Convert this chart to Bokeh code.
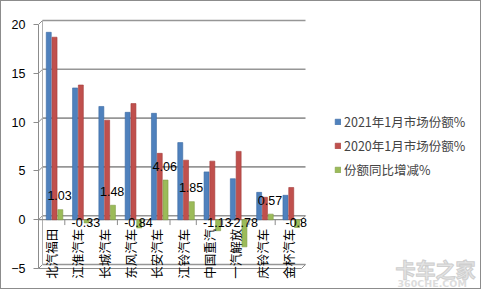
from bokeh.plotting import figure
from bokeh.models import (ColumnDataSource, Legend, LegendItem, Label, FixedTicker, Range1d)
from bokeh.core.properties import value
from bokeh.embed import file_html
from bokeh.resources import INLINE
import math

categories = ["北汽福田", "江淮汽车", "长城汽车", "东风汽车", "长安汽车",
              "江铃汽车", "中国重汽", "一汽解放", "庆铃汽车", "金杯汽车"]
share_2021 = [19.2, 13.5, 11.6, 11.0, 10.9, 7.9, 4.9, 4.2, 2.8, 2.5]
share_2020 = [18.7, 13.8, 10.2, 11.9, 6.8, 6.1, 6.0, 7.0, 2.3, 3.3]
change = [1.03, -0.33, 1.48, -0.84, 4.06, 1.85, -1.13, -2.78, 0.57, -0.8]
series_names = ["2021年1月市场份额%", "2020年1月市场份额%", "份额同比增减%"]
y_ticks = [-5, 0, 5, 10, 15, 20]

BLUE, RED, GREEN = "#4F81BD", "#C0504D", "#9BBB59"
GRID = "#8c8c8c"
CJK = "Noto Sans CJK SC"

n = len(categories)
idx = list(range(n))
PX = 26.3          # pixels per category
PY = 9.76          # pixels per y unit
DX, DY = 4 / PX, 4 / PY   # 3-D depth offset

src = ColumnDataSource(dict(i=idx, cat=categories, zero=[0] * n))

p = figure(width=481, height=289, output_backend="svg", toolbar_location=None,
           x_range=Range1d(-0.5, -0.5 + 444 / PX),
           y_range=Range1d(-5 - 22 / PY, 20 + 23 / PY),
           min_border_left=37, min_border_right=0, min_border_top=0,
           min_border_bottom=0, x_axis_location=None)
p.styles = {"border": "1px solid #8c8c8c"}
p.outline_line_color = None
p.background_fill_color = "white"
p.border_fill_color = "white"

# y axis
p.yaxis.ticker = FixedTicker(ticks=y_ticks)
p.yaxis.bounds = (min(y_ticks), max(y_ticks))
p.yaxis.axis_line_color = GRID
p.yaxis.major_tick_line_color = GRID
p.yaxis.major_tick_out = 5
p.yaxis.major_tick_in = 0
p.yaxis.minor_tick_line_color = None
p.yaxis.major_label_text_font = "Liberation Sans"
p.yaxis.major_label_text_font_size = "12.5px"
p.yaxis.major_label_text_color = "black"
p.yaxis.major_label_standoff = 8
p.xgrid.grid_line_color = None
p.ygrid.grid_line_color = None

x_left, x_right = -0.5, n - 0.5
# back-wall gridlines (3-D look)
p.segment(x0=[x_left + DX] * len(y_ticks), x1=[x_right + DX] * len(y_ticks),
          y0=[t + DY for t in y_ticks], y1=[t + DY for t in y_ticks],
          line_color="#969696", line_width=1.6)
# left wall connectors
p.segment(x0=[x_left] * len(y_ticks), x1=[x_left + DX] * len(y_ticks),
          y0=y_ticks, y1=[t + DY for t in y_ticks], line_color=GRID, line_width=1)
# left wall back edge
p.segment(x0=[x_left + DX], x1=[x_left + DX], y0=[min(y_ticks) + DY], y1=[max(y_ticks) + DY],
          line_color="#b0b0b0", line_width=1)
# floor front edges at 0 and bottom
for yy in (0, min(y_ticks)):
    p.segment(x0=[x_left], x1=[x_right], y0=[yy], y1=[yy], line_color=GRID, line_width=1.2)
    p.segment(x0=[x_right], x1=[x_right + DX], y0=[yy], y1=[yy + DY], line_color=GRID, line_width=1)

# category tick marks between categories
p.segment(x0=[i + 0.5 for i in idx], x1=[i + 0.5 for i in idx],
          y0=0, y1=-0.55, line_color=GRID, line_width=1)

w = 0.19
r1 = p.vbar(x=[i - 0.11 for i in idx], top=share_2021, width=w,
            fill_color=BLUE, line_color="#3a6aa3", line_width=0.6)
r2 = p.vbar(x=[i + 0.11 for i in idx], top=share_2020, width=w,
            fill_color=RED, line_color="#a33d3a", line_width=0.6)
r3 = p.vbar(x=[i + 0.33 for i in idx], top=change, bottom=0, width=w,
            fill_color=GREEN, line_color="#7f9c45", line_width=0.6)

# category labels (vertical, bottom-to-top)
p.text(x="i", y="zero", text="cat", source=src, angle=math.pi / 2,
       text_align="right", text_baseline="middle", y_offset=9,
       text_font=value(CJK), text_font_size="12.5px", text_color="black")

# data labels for change series
pos_i = [i for i in idx if change[i] > 0]
neg_i = [i for i in idx if change[i] <= 0]
p.text(x=[i + 0.3 for i in pos_i], y=[change[i] for i in pos_i],
       text=[f"{change[i]:g}" for i in pos_i],
       text_align="center", text_baseline="middle", y_offset=-14,
       text_font=value("Liberation Sans"), text_font_size="12.5px", text_color="black")
p.text(x=[i + 0.3 for i in neg_i], y=[0] * len(neg_i),
       text=[f"{change[i]:g}" for i in neg_i],
       text_align="center", text_baseline="middle", y_offset=3,
       text_font=value("Liberation Sans"), text_font_size="12.5px", text_color="black")

legend = Legend(items=[LegendItem(label=series_names[0], renderers=[r1]),
                       LegendItem(label=series_names[1], renderers=[r2]),
                       LegendItem(label=series_names[2], renderers=[r3])],
                location=(296, 111), orientation="vertical",
                label_text_font=CJK, label_text_font_size="12.5px",
                glyph_width=7, glyph_height=7, label_height=20, spacing=4,
                label_standoff=3, padding=0, margin=0,
                border_line_color=None, background_fill_alpha=0)
p.add_layout(legend)

# watermark
p.add_layout(Label(x=393, y=252, x_units="canvas", y_units="canvas", text="卡车之家",
                   text_font=CJK, text_font_size="20px", text_font_style="bold",
                   text_color="#e4e4e4", text_outline_color="#cfcfcf",
                   text_baseline="top"))
p.add_layout(Label(x=395, y=275, x_units="canvas", y_units="canvas", text="360CHE.COM",
                   text_font="DejaVu Sans", text_font_size="9.5px", text_font_style="bold",
                   text_color="#dcdcdc", text_baseline="top"))

open("out.html", "w").write(file_html(p, INLINE))
